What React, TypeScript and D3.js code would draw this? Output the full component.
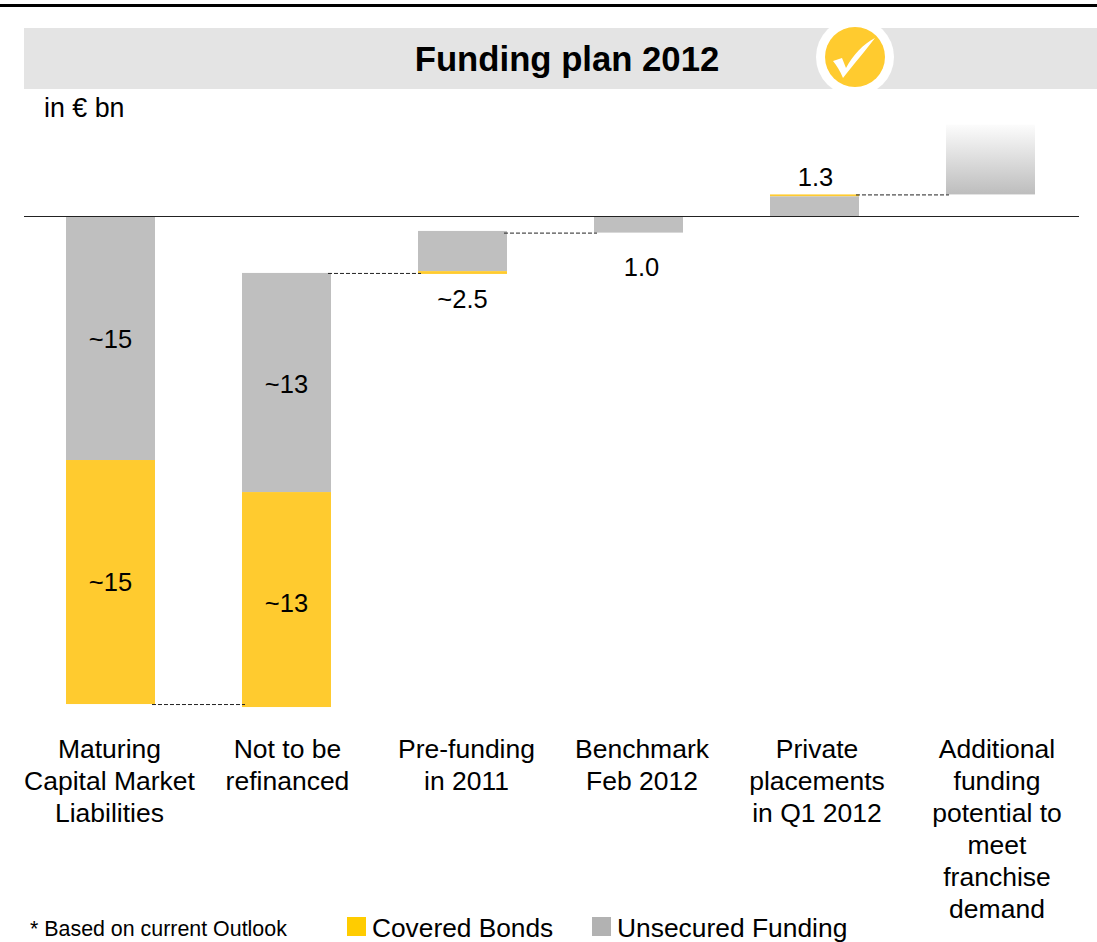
import React from "react";
import * as d3 from "d3";

// Funding plan waterfall, in € bn. Offsets run downward from the zero line.
const categories = ["maturing", "notRefinanced", "preFunding", "benchmark", "placements", "additional"];
const categoryLines = [
  ["Maturing", "Capital Market", "Liabilities"],
  ["Not to be", "refinanced"],
  ["Pre-funding", "in 2011"],
  ["Benchmark", "Feb 2012"],
  ["Private", "placements", "in Q1 2012"],
  ["Additional", "funding", "potential to", "meet", "franchise", "demand"],
];
const barStart = [0, 3.43, 0.9, 0, -1.3, -5.5];
const unsecuredValues = [14.7, 13.2, 2.42, 1.0, 1.18, 0];
const coveredValues = [14.7, 12.95, 0.17, 0, 0.12, 0];
const potentialValues = [0, 0, 0, 0, 0, 4.2];
const barLabels = ["~15", "~13", "~2.5", "1.0", "1.3", ""];

const FONT = "'Liberation Sans', Arial, sans-serif";
const YELLOW = "#ffcb2f";
const GREY = "#bfbfbf";

const x = d3.scaleBand<string>().domain(categories).range([66, 1035]).paddingInner(0.4944).paddingOuter(0);
const y = d3.scaleLinear().domain([0, 30]).range([216, 216 + 30 * 16.6]);

// Waterfall segments: unsecured on top of covered, both hanging from each start offset.
const segments = categories.flatMap((c, i) => {
  const start = barStart[i];
  const mid = start + unsecuredValues[i];
  const out: { c: string; y0: number; y1: number; fill: string }[] = [];
  if (potentialValues[i] > 0) {
    out.push({ c, y0: start, y1: start + potentialValues[i], fill: "url(#potentialFade)" });
  }
  if (i === 4) {
    // Above the zero line the small covered sliver sits at the far end of the bar.
    out.push({ c, y0: start, y1: start + coveredValues[i], fill: YELLOW });
    out.push({ c, y0: start + coveredValues[i], y1: 0, fill: GREY });
    return out;
  }
  if (unsecuredValues[i] > 0) out.push({ c, y0: start, y1: mid, fill: GREY });
  if (coveredValues[i] > 0) out.push({ c, y0: mid, y1: mid + coveredValues[i], fill: YELLOW });
  return out;
});

const barEnd = (i: number) => barStart[i] + unsecuredValues[i] + coveredValues[i];
const connectors = [
  { from: 0, to: 1, level: barEnd(0) },
  { from: 1, to: 2, level: barStart[1] },
  { from: 2, to: 3, level: barEnd(3) },
  { from: 4, to: 5, level: barStart[4] },
];

// Value captions: bar index, value text, horizontal nudge from the bar centre, baseline level.
const captions = [
  { i: 0, text: barLabels[0], dx: 0, level: 7.97 },
  { i: 0, text: barLabels[0], dx: 0, level: 22.62 },
  { i: 1, text: barLabels[1], dx: 0, level: 10.67 },
  { i: 1, text: barLabels[1], dx: 0, level: 23.87 },
  { i: 2, text: barLabels[2], dx: 0, level: 5.54 },
  { i: 3, text: barLabels[3], dx: 3, level: 3.6 },
  { i: 4, text: barLabels[4], dx: 1, level: -1.8 },
];
const labelNudge = [-1, 1, 4, 3.5, 2.5, 6.5];

export default function App() {
  return (
    <svg
      width={1097}
      height={942}
      viewBox="0 0 1097 942"
      style={{ position: "absolute", left: 0, top: 0, background: "#fff" }}
      fontFamily={FONT}
      fill="#000"
    >
      <defs>
        <linearGradient id="potentialFade" x1="0" y1="0" x2="0" y2="1">
          <stop offset="0" stopColor="#fcfcfc" />
          <stop offset="1" stopColor="#bdbdbd" />
        </linearGradient>
      </defs>

      <rect x={0} y={4} width={1097} height={3} fill="#000" />
      <rect x={24} y={28} width={1073} height={61} fill="#e4e4e4" />
      <text x={567} y={71} textAnchor="middle" fontSize={34.7} fontWeight="bold">
        Funding plan 2012
      </text>

      <circle cx={855} cy={57} r={39} fill="#fff" />
      <circle cx={855} cy={57} r={30} fill={YELLOW} />
      <path
        d="M833 61 L842 58 L846 68 C853 55 863 44 875 38 C866 50 854 64 843 78 C840 71 837 66 833 61 Z"
        fill="#fff"
      />

      <text x={44} y={117} fontSize={26.8}>in € bn</text>

      {segments.map((s, i) => (
        <rect
          key={i}
          x={x(s.c)}
          y={y(s.y0)}
          width={x.bandwidth()}
          height={y(s.y1) - y(s.y0)}
          fill={s.fill}
        />
      ))}

      {connectors.map((l, i) => (
        <line
          key={i}
          x1={x(categories[l.from])! + x.bandwidth() - 3}
          x2={x(categories[l.to])! + 3}
          y1={y(l.level) + 0.5}
          y2={y(l.level) + 0.5}
          stroke="#222"
          strokeWidth={1}
          strokeDasharray="4 2"
        />
      ))}

      <line x1={24} x2={1079} y1={216.5} y2={216.5} stroke="#222" strokeWidth={1} />

      {captions.map((c, i) => (
        <text
          key={i}
          x={x(categories[c.i])! + x.bandwidth() / 2 + c.dx}
          y={y(c.level)}
          textAnchor="middle"
          fontSize={25.5}
        >
          {c.text}
        </text>
      ))}

      {categoryLines.map((lines, i) => (
        <text
          key={i}
          x={x(categories[i])! + x.bandwidth() / 2 + labelNudge[i]}
          y={758}
          textAnchor="middle"
          fontSize={26.5}
        >
          {lines.map((t, j) => (
            <tspan key={j} x={x(categories[i])! + x.bandwidth() / 2 + labelNudge[i]} y={758 + j * 32}>
              {t}
            </tspan>
          ))}
        </text>
      ))}

      <text x={30} y={936} fontSize={21.4}>* Based on current Outlook</text>
      <rect x={347} y={917} width={19} height={19} fill="#ffcc00" />
      <text x={372} y={937} fontSize={26.3}>Covered Bonds</text>
      <rect x={592} y={917} width={19} height={19} fill="#b2b2b2" />
      <text x={617} y={937} fontSize={26.4}>Unsecured Funding</text>
    </svg>
  );
}
